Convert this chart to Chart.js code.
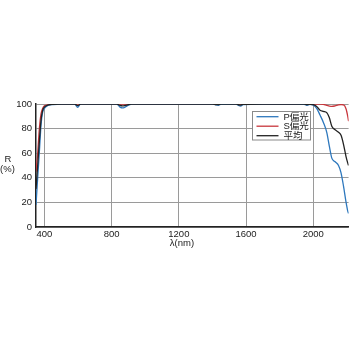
<!DOCTYPE html>
<html lang="ja">
<head>
<meta charset="UTF-8">
<title>R - λ</title>
<script src="https://cdn.jsdelivr.net/npm/chart.js@4.4.1/dist/chart.umd.min.js"></script>
<style>
  html, body { margin: 0; padding: 0; background: #fff; }
  #c { display: block; }
</style>
</head>
<body>
<canvas id="c" width="350" height="350"></canvas>
<script>
// 波長 (nm)
const wl = [350, 360, 370, 380, 390, 400, 425, 450, 500, 580, 598, 615, 700, 830, 850, 865, 880, 900, 920,
  1000, 1200, 1400, 1420, 1435, 1450, 1540, 1555, 1568, 1582, 1700, 1900, 1945, 1962, 1980,
  2000, 2020, 2040, 2060, 2080, 2095, 2110, 2130, 2150, 2165, 2180, 2195, 2205, 2210];

// 反射率 R (%)
const pPol = [18, 40, 61, 83, 93.5, 96.5, 99, 99.6, 100, 100, 97.3, 100, 100, 100, 97.5, 96.8, 97.5, 99, 100,
  100, 100, 100, 99.3, 99, 99.8, 100, 98.8, 98.3, 99.5, 100, 100, 99.8, 99, 99.7,
  99, 96.5, 91, 85, 77, 66, 56, 53, 50, 44, 33, 20, 13, 11];
const sPol = [45, 60, 80, 92, 96.5, 98.5, 99.5, 100, 100, 100, 100, 100, 100, 100, 100, 100, 100, 100, 100,
  100, 100, 100, 100, 100, 100, 100, 100, 100, 100, 100, 100, 100, 100, 100,
  100, 100, 100, 99.8, 98.8, 98.3, 98, 98.5, 99.3, 99.5, 99.3, 96, 90, 86];
const avgPol = [31, 50, 70, 87, 95, 97.5, 99.3, 99.8, 100, 100, 98.6, 100, 100, 100, 98.8, 98.4, 98.8, 99.5, 100,
  100, 100, 100, 99.6, 99.5, 99.9, 100, 99.4, 99.2, 99.7, 100, 100, 99.9, 99.5, 99.8,
  99.5, 98, 95, 94, 93, 89, 82, 79, 77, 74.5, 67, 57, 52, 50];

const labels = ['P偏光', 'S偏光', '平均'];
const colors = ['#2e78bd', '#c8363c', '#222222'];
const xTicks = [400, 800, 1200, 1600, 2000];
const yTicks = [0, 20, 40, 60, 80, 100];

const tickFont = { family: '"Liberation Sans", Arial, sans-serif', size: 9.5 };
const cjkFont = '"Liberation Sans", "Noto Sans CJK JP", sans-serif';

function pts(arr) {
  return wl.map((x, i) => ({ x: x, y: arr[i] }));
}

// 凡例と軸タイトル
const extras = {
  id: 'extras',
  afterDraw(chart) {
    const ctx = chart.ctx;
    ctx.save();
    ctx.fillStyle = '#222';
    ctx.font = '9.5px ' + cjkFont;
    ctx.textAlign = 'center';
    ctx.textBaseline = 'middle';
    ctx.fillText('R', 8, 159);
    ctx.fillText('(%)', 7.5, 169.5);
    ctx.fillText('λ(nm)', 182, 243.5);

    // 凡例
    const bx = 252.5, by = 111.5, bw = 58, bh = 28.5;
    ctx.fillStyle = '#fff';
    ctx.fillRect(bx, by, bw, bh);
    ctx.strokeStyle = '#8a8a8a';
    ctx.lineWidth = 1;
    ctx.strokeRect(bx, by, bw, bh);
    ctx.font = '9.5px ' + cjkFont;
    ctx.textAlign = 'left';
    labels.forEach((t, i) => {
      const ly = 116.7 + i * 9.5;
      ctx.strokeStyle = colors[i];
      ctx.lineWidth = 1.3;
      ctx.beginPath();
      ctx.moveTo(256.5, ly);
      ctx.lineTo(278.5, ly);
      ctx.stroke();
      ctx.fillStyle = '#222';
      ctx.fillText(t, 283.5, ly + 0.3);
    });
    ctx.restore();
  }
};

new Chart(document.getElementById('c'), {
  type: 'line',
  data: {
    datasets: [
      { label: labels[0], data: pts(pPol), borderColor: colors[0], order: 1 },
      { label: labels[1], data: pts(sPol), borderColor: colors[1], order: 2 },
      { label: labels[2], data: pts(avgPol), borderColor: colors[2], order: 0 }
    ]
  },
  options: {
    responsive: false,
    animation: false,
    events: [],
    layout: { padding: { top: 104, right: 1.4, left: 0, bottom: 0 } },
    elements: {
      point: { radius: 0 },
      line: { borderWidth: 1.3, cubicInterpolationMode: 'monotone', fill: false }
    },
    plugins: { legend: { display: false }, tooltip: { enabled: false } },
    scales: {
      x: {
        type: 'linear',
        min: 350,
        max: 2210,
        afterFit(s) { s.height = 123; },
        afterBuildTicks(s) { s.ticks = xTicks.map(v => ({ value: v })); },
        grid: { color: '#9a9a9a', lineWidth: 1, drawTicks: false },
        border: { color: '#222', width: 1.5 },
        ticks: { font: tickFont, color: '#222', padding: 2, maxRotation: 0, callback: v => String(v) }
      },
      y: {
        min: 0,
        max: 100,
        afterFit(s) { s.width = 36; },
        afterBuildTicks(s) { s.ticks = yTicks.map(v => ({ value: v })); },
        grid: { color: '#9a9a9a', lineWidth: 1, drawTicks: false },
        border: { color: '#222', width: 1.5 },
        ticks: { font: tickFont, color: '#222', padding: 4, callback: v => String(v) }
      }
    }
  },
  plugins: [extras]
});
</script>
</body>
</html>
